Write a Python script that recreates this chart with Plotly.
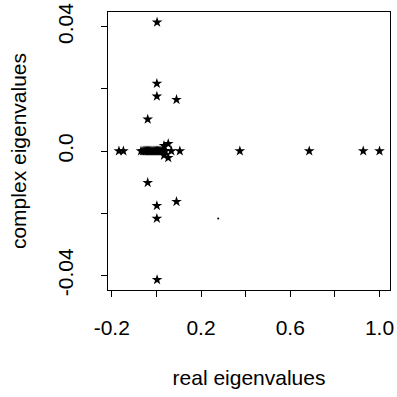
import plotly.graph_objects as go

# eigenvalues: real parts and imaginary parts
real_parts = [
    -0.168, -0.148, -0.069,
    -0.060, -0.055, -0.050, -0.045, -0.040, -0.035, -0.030, -0.025,
    -0.020, -0.015, -0.010, -0.005, 0.000, 0.005, 0.010, 0.015,
    0.020, 0.025, 0.030, 0.035, 0.040,
    0.067, 0.105, 0.374, 0.685, 0.927, 1.000,
    0.003, 0.003, 0.002, 0.002, 0.002, 0.002,
    0.090, 0.090, -0.039, -0.039,
    0.053, 0.053, 0.034, 0.034,
]
imag_parts = [
    0.0, 0.0, 0.0,
    0.0, 0.0, 0.0, 0.0, 0.0, 0.0, 0.0, 0.0,
    0.0, 0.0, 0.0, 0.0, 0.0, 0.0, 0.0, 0.0,
    0.0, 0.0, 0.0, 0.0, 0.0,
    0.0, 0.0, 0.0, 0.0, 0.0, 0.0,
    0.0414, -0.0414, 0.0217, -0.0217, 0.0176, -0.0176,
    0.0165, -0.0163, 0.0102, -0.0102,
    0.0023, -0.0022, 0.0017, -0.0014,
]

# stray speck in the figure
speck_x = [0.277]
speck_y = [-0.0217]

x_tickvals = [-0.2, 0.0, 0.2, 0.4, 0.6, 0.8, 1.0]
x_ticktext = ["-0.2", "", "0.2", "", "0.6", "", "1.0"]
y_tickvals = [-0.04, -0.02, 0.0, 0.02, 0.04]
y_ticktext = ["-0.04", "", "0.0", "", "0.04"]

FONT = "Liberation Sans, Arial, Helvetica, sans-serif"

fig = go.Figure()
fig.add_trace(go.Scatter(
    x=real_parts, y=imag_parts, mode="markers",
    marker=dict(symbol="star", size=8, color="black", line=dict(width=0)),
    showlegend=False, hoverinfo="skip",
))
fig.add_trace(go.Scatter(
    x=speck_x, y=speck_y, mode="markers",
    marker=dict(symbol="circle", size=2, color="black", line=dict(width=0)),
    showlegend=False, hoverinfo="skip",
))

axis_common = dict(
    showgrid=False, zeroline=False, showline=True, mirror=True,
    linecolor="black", linewidth=1, ticks="outside", ticklen=6,
    tickcolor="black", tickwidth=1, automargin=False,
    tickfont=dict(family=FONT, size=21, color="black"),
    title_font=dict(family=FONT, size=21, color="black"),
)

fig.update_xaxes(
    range=[-0.217, 1.047], tickvals=x_tickvals, ticktext=x_ticktext,
    title_text="real eigenvalues", title_standoff=32,
    ticklabelstandoff=13, **axis_common,
)
fig.update_yaxes(
    range=[-0.0447, 0.0447], tickvals=y_tickvals, ticktext=y_ticktext,
    tickangle=-90, title_text="complex eigenvalues", title_standoff=21,
    ticklabelstandoff=20, **axis_common,
)

fig.update_layout(
    width=397, height=397,
    margin=dict(l=108, r=7, t=12, b=107),
    paper_bgcolor="white", plot_bgcolor="white",
    font=dict(family=FONT, color="black"),
)

fig.write_html("out.html")
